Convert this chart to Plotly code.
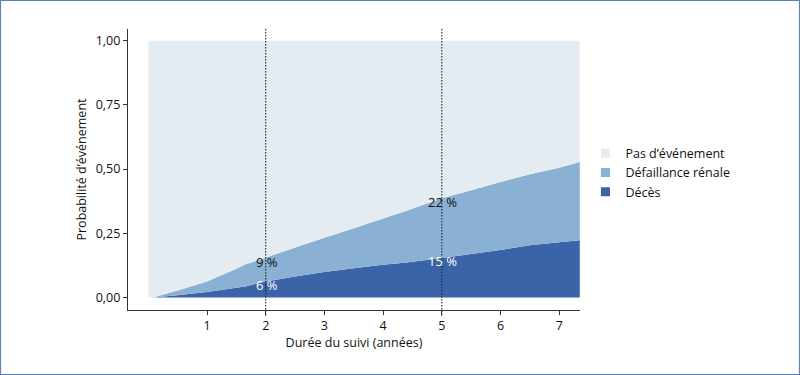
import plotly.graph_objects as go
import numpy as np

# ---- data ----
years = [0.0, 0.08, 0.5, 1.0, 1.5, 1.65, 2.0, 2.5, 3.0, 3.5, 4.0, 4.4, 5.0,
         5.5, 6.0, 6.5, 7.0, 7.35]
total = [0.0, 0.0, 0.027, 0.062, 0.112, 0.128, 0.155, 0.195, 0.233, 0.27, 0.308,
         0.338, 0.386, 0.418, 0.45, 0.48, 0.505, 0.528]
deces = [0.0, 0.0, 0.008, 0.021, 0.038, 0.043, 0.062, 0.082, 0.099, 0.114, 0.127,
         0.136, 0.154, 0.169, 0.185, 0.203, 0.215, 0.223]
defaillance = [t - d for t, d in zip(total, deces)]
pas_evenement = [1 - t for t in total]

series_names = ["Décès", "Défaillance rénale", "Pas d’événement"]
series_colors = ["#3a63a8", "#8ab1d3", "#e4ecf2"]

mark_years = [2, 5]
mark_labels_deces = ["6 %", "15 %"]
mark_labels_def = ["9 %", "22 %"]

y_ticks = [0, 0.25, 0.5, 0.75, 1.0]
x_ticks = [1, 2, 3, 4, 5, 6, 7]

FONT = "Open Sans"

fig = go.Figure()
for name, vals, col in zip(series_names, [deces, defaillance, pas_evenement], series_colors):
    fig.add_trace(go.Scatter(x=years, y=vals, name=name, stackgroup="one",
                             mode="none", fillcolor=col, showlegend=False,
                             hoverinfo="skip"))

# legend entries (square swatches), top to bottom
for name, col in zip(series_names[::-1], series_colors[::-1]):
    fig.add_trace(go.Scatter(x=[None], y=[None], name=name, mode="markers",
                             marker=dict(symbol="square", size=9, color=col),
                             showlegend=True))

# dotted reference lines
for yr in mark_years:
    fig.add_shape(type="line", xref="x", yref="paper", x0=yr, x1=yr, y0=-0.02, y1=1,
                  line=dict(color="#222222", width=1.1, dash="1.5px,1.5px"))

# band labels
for yr, ld, lf in zip(mark_years, mark_labels_deces, mark_labels_def):
    d = float(np.interp(yr, years, deces))
    t = float(np.interp(yr, years, total))
    fig.add_annotation(x=yr, y=t, text=lf, showarrow=False, yanchor="middle", yshift=-4,
                       xshift=1, font=dict(family=FONT, size=13, color="#111111"))
    fig.add_annotation(x=yr, y=d, text=ld, showarrow=False, yanchor="middle", yshift=-3,
                       xshift=1, font=dict(family=FONT, size=13, color="#ffffff"))

# outer frame
L, R, T, B = 128, 220, 29, 65
W, H = 800, 375
pw, ph = W - L - R, H - T - B
fig.add_shape(type="rect", xref="paper", yref="paper",
              x0=(0.5 - L) / pw, x1=(W - 0.5 - L) / pw,
              y0=(T + ph - (H - 0.5)) / ph, y1=(T + ph - 0.5) / ph,
              line=dict(color="#5b7fbf", width=1.2), fillcolor="rgba(0,0,0,0)")

axis_common = dict(showgrid=False, zeroline=False, showline=True, linecolor="#333333",
                   linewidth=1.3, ticks="outside", ticklen=4, tickcolor="#333333",
                   tickwidth=1.2, tickfont=dict(family=FONT, size=12.5, color="#111111"))

fig.update_layout(
    width=W, height=H,
    margin=dict(l=L, r=R, t=T, b=B),
    paper_bgcolor="white", plot_bgcolor="white",
    separators=", ",
    font=dict(family=FONT, size=12.5, color="#111111"),
    xaxis=dict(range=[-0.346, 7.354], tickvals=x_ticks,
               title=dict(text="Durée du suivi (années)", font=dict(family=FONT, size=12.5),
                          standoff=0),
               **axis_common),
    yaxis=dict(range=[-0.049, 1.046], tickvals=y_ticks, tickformat=".2f",
               title=dict(text="Probabilité d’événement", font=dict(family=FONT, size=12.5),
                          standoff=6),
               **axis_common),
    legend=dict(x=1.012, xanchor="left", y=0.61, yanchor="top", traceorder="normal",
                font=dict(family=FONT, size=12.5, color="#111111"),
                bgcolor="rgba(0,0,0,0)", itemwidth=30, tracegroupgap=0),
    showlegend=True,
)

fig.write_html("out.html", config={"displayModeBar": False},
               post_script="document.body.style.margin='0';document.body.style.overflow='hidden';")
